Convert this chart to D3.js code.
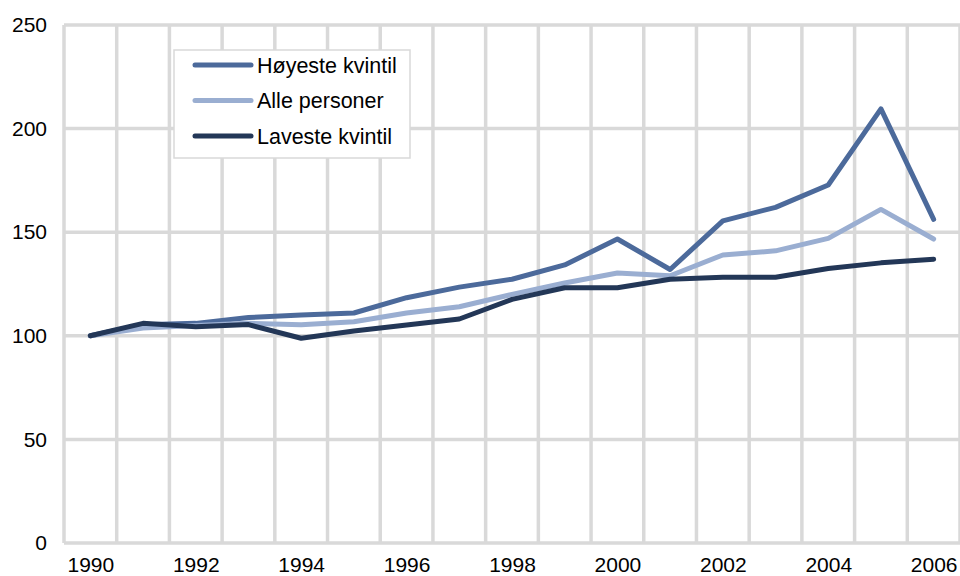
<!DOCTYPE html>
<html>
<head>
<meta charset="utf-8">
<script src="https://cdn.jsdelivr.net/npm/d3@7"></script>
<style>
  body { margin: 0; background: #fff; }
  svg { display: block; font-family: "Liberation Sans", Arial, sans-serif; }
</style>
</head>
<body>
<svg id="chart" width="960" height="576"></svg>
<script>
const years = [1990,1991,1992,1993,1994,1995,1996,1997,1998,1999,2000,2001,2002,2003,2004,2005,2006];
const hoyeste = [100,105.3,106,108.8,110,111,118.4,123.5,127.3,134.2,146.7,132,155.5,162,172.8,209.5,156.2];
const alle = [100,103.8,105,106,105.3,106.8,111,114,120,125.5,130.3,129,139,141,147,161,146.7];
const laveste = [100,106,104.4,105.4,98.8,102.3,105.2,108.1,117.6,123.2,123.2,127.3,128.3,128.3,132.5,135.2,137];
const yTicks = [0,50,100,150,200,250];
const xTickYears = [1990,1992,1994,1996,1998,2000,2002,2004,2006];
const seriesNames = ["Høyeste kvintil","Alle personer","Laveste kvintil"];
const seriesColors = ["#4c6a9b","#9aaed1","#233757"];

const svg = d3.select("#chart");
const pLeft = 64, pRight = 960, pTop = 25, pBottom = 543;

const x = d3.scaleBand().domain(years).range([pLeft, pRight]).padding(0);
const y = d3.scaleLinear().domain([0, 250]).range([pBottom, pTop]);
const cx = d => x(d) + x.bandwidth() / 2;

const grid = svg.append("g");
grid.selectAll("line.h").data(yTicks).join("line")
  .attr("class", "h")
  .attr("x1", pLeft).attr("x2", pRight)
  .attr("y1", d => y(d)).attr("y2", d => y(d))
  .attr("stroke", "#d9d9d9").attr("stroke-width", 3.5);
const vlines = years.map(d => x(d)).concat([pRight]);
grid.selectAll("line.v").data(vlines).join("line")
  .attr("class", "v")
  .attr("x1", d => d).attr("x2", d => d)
  .attr("y1", pTop).attr("y2", pBottom)
  .attr("stroke", "#d9d9d9").attr("stroke-width", 3.5);

const yAxis = svg.append("g").attr("transform", `translate(${pLeft},0)`)
  .call(d3.axisLeft(y).tickValues(yTicks).tickSize(0).tickPadding(17));
yAxis.select(".domain").remove();
yAxis.selectAll("text").attr("font-size", 21).attr("fill", "#000")
  .attr("font-family", "Liberation Sans, Arial, sans-serif");

const xPoint = d3.scalePoint().domain(years).range([cx(years[0]), cx(years[years.length-1])]);
const xAxis = svg.append("g").attr("transform", `translate(0,${pBottom})`)
  .call(d3.axisBottom(xPoint).tickValues(xTickYears).tickSize(0).tickPadding(14).tickFormat(d3.format("d")));
xAxis.select(".domain").remove();
xAxis.selectAll("text").attr("font-size", 21).attr("fill", "#000")
  .attr("font-family", "Liberation Sans, Arial, sans-serif");

const data = [hoyeste, alle, laveste];
const line = d3.line().x((d, i) => cx(years[i])).y(d => y(d));
data.forEach((s, i) => {
  svg.append("path").datum(s)
    .attr("d", line)
    .attr("fill", "none")
    .attr("stroke", seriesColors[i])
    .attr("stroke-width", 5)
    .attr("stroke-linejoin", "round")
    .attr("stroke-linecap", "round");
});

const lg = svg.append("g");
lg.append("rect").attr("x", 174).attr("y", 50).attr("width", 236).attr("height", 108)
  .attr("fill", "#fff").attr("stroke", "#d9d9d9").attr("stroke-width", 1.5);
seriesNames.forEach((name, i) => {
  const ly = 65 + i * 35.5;
  lg.append("line").attr("x1", 195).attr("x2", 251).attr("y1", ly).attr("y2", ly)
    .attr("stroke", seriesColors[i]).attr("stroke-width", 5).attr("stroke-linecap", "round");
  lg.append("text").attr("x", 257).attr("y", ly).attr("dy", "0.35em")
    .attr("font-size", 21.5).attr("fill", "#000").text(name);
});
</script>
</body>
</html>
